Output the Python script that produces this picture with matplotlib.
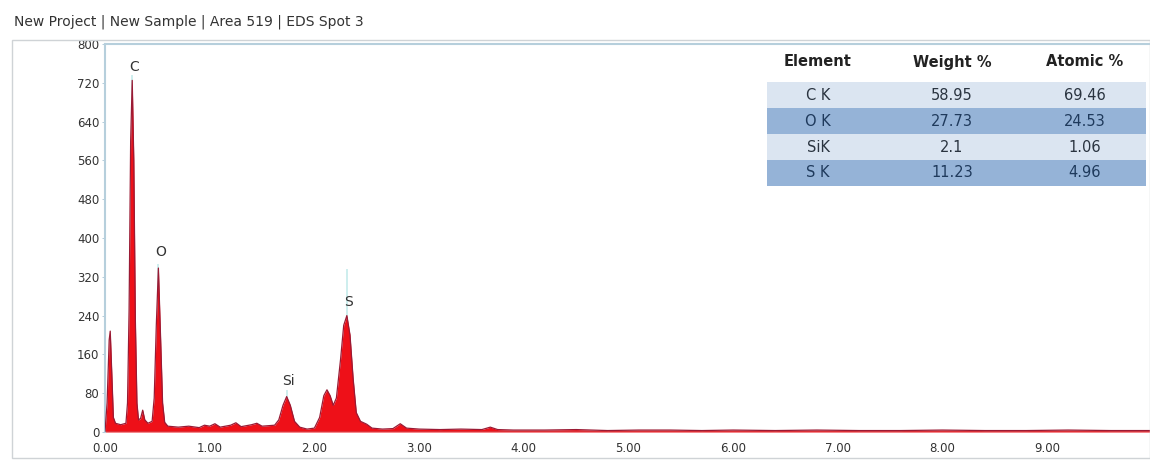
import matplotlib.pyplot as plt
from matplotlib.patches import Rectangle

# espectro EDS (energia en keV, cuentas)
energia = [0.00, 0.02, 0.04, 0.05, 0.065, 0.08, 0.10, 0.15, 0.20, 0.215, 0.23, 0.245,
           0.26, 0.275, 0.29, 0.305, 0.32, 0.34, 0.36, 0.38, 0.41, 0.45, 0.47, 0.49,
           0.51, 0.53, 0.55, 0.57, 0.60, 0.70, 0.80, 0.90, 0.95, 1.00, 1.05, 1.10,
           1.20, 1.25, 1.30, 1.40, 1.45, 1.50, 1.62, 1.66, 1.70, 1.735, 1.77, 1.81,
           1.86, 1.93, 2.00, 2.05, 2.09, 2.12, 2.15, 2.18, 2.21, 2.25, 2.28, 2.31,
           2.34, 2.37, 2.40, 2.44, 2.50, 2.55, 2.65, 2.75, 2.82, 2.88, 3.00, 3.20,
           3.40, 3.60, 3.68, 3.75, 3.90, 4.20, 4.50, 4.80, 5.10, 5.40, 5.70, 6.00,
           6.40, 6.80, 7.20, 7.60, 8.00, 8.40, 8.80, 9.20, 9.60, 10.0]
cuentas = [0, 60, 190, 208, 120, 30, 18, 15, 18, 60, 250, 600,
           725, 560, 230, 60, 25, 28, 45, 25, 18, 22, 70, 220,
           338, 200, 60, 20, 12, 10, 12, 9, 14, 12, 17, 10,
           14, 19, 11, 15, 18, 12, 14, 25, 55, 73, 55, 22,
           10, 6, 8, 30, 75, 87, 75, 55, 70, 150, 220, 240,
           200, 110, 40, 22, 16, 8, 6, 7, 17, 8, 6, 5,
           6, 5, 10, 5, 4, 4, 5, 3, 4, 4, 3, 4,
           3, 4, 3, 3, 4, 3, 3, 4, 3, 3]

# marcas de elementos: energia de la linea, altura de la linea y de la etiqueta
elementos = ["C", "O", "Si", "S"]
elem_energia = [0.26, 0.51, 1.735, 2.31]
elem_linea = [735, 345, 85, 335]
elem_etiqueta = [752, 372, 105, 268]

# tabla de cuantificacion
columnas = ["Element", "Weight %", "Atomic %"]
filas = ["C K", "O K", "SiK", "S K"]
peso = ["58.95", "27.73", "2.1", "11.23"]
atomico = ["69.46", "24.53", "1.06", "4.96"]

yticks = [0, 80, 160, 240, 320, 400, 480, 560, 640, 720, 800]
xticks = [0, 1, 2, 3, 4, 5, 6, 7, 8, 9]

W, H = 1150, 462
fig = plt.figure(figsize=(W / 100, H / 100), dpi=100)
fig.patch.set_facecolor("white")

# marco del panel y titulo
fig.patches.append(Rectangle((12 / W, 4 / H), (W - 12) / W, (H - 40 - 4) / H,
                             transform=fig.transFigure, fill=False,
                             edgecolor="#cfd3d6", lw=1.0))
fig.text(14 / W, 1 - 22 / H, "New Project | New Sample | Area 519 | EDS Spot 3",
         fontsize=10, color="#333333", va="center", ha="left")

ax = fig.add_axes([105 / W, 30 / H, 1047 / W, 388 / H])
ax.set_facecolor("white")

for x, alto in zip(elem_energia, elem_linea):
    ax.plot([x, x], [0, alto], color="#cdeeee", lw=1.4, zorder=1)

ax.fill_between(energia, cuentas, 0, color="#ee1018", lw=0, zorder=2)
ax.plot(energia, cuentas, color="#9a1a34", lw=0.9, zorder=3)
ax.axhline(0, color="#8fb8b8", lw=1.0, zorder=4)

for nombre, x, y in zip(elementos, elem_energia, elem_etiqueta):
    ax.text(x + 0.02, y, nombre, fontsize=10, color="#333333",
            ha="center", va="center", zorder=5)

ax.set_xlim(0, 10)
ax.set_ylim(0, 800)
ax.set_xticks(xticks)
ax.set_xticklabels([f"{v:.2f}" for v in xticks])
ax.set_yticks(yticks)
ax.tick_params(axis="both", labelsize=8.5, colors="#333333", length=2, width=0.6)
ax.tick_params(axis="y", pad=2, color="#a9c4d4")
ax.tick_params(axis="x", length=0, pad=7)
for lado in ["right", "bottom"]:
    ax.spines[lado].set_visible(False)
ax.spines["left"].set_color("#b6cfdc")
ax.spines["left"].set_linewidth(1.5)
ax.spines["top"].set_color("#b6cfdc")
ax.spines["top"].set_linewidth(1.5)

# tabla de resultados en la esquina superior derecha
t_izq, t_der = 767, 1146
col_x = [818, 952, 1085]
fila_alto = 26
fila_arriba = 82
colores = ["#dbe5f1", "#95b3d7", "#dbe5f1", "#95b3d7"]

for x, s in zip(col_x, columnas):
    fig.text(x / W, 1 - 62 / H, s, fontsize=10.5, weight="bold",
             color="#222222", ha="center", va="center")

for i, (el, p, a) in enumerate(zip(filas, peso, atomico)):
    y0 = fila_arriba + i * fila_alto
    fig.patches.append(Rectangle((t_izq / W, 1 - (y0 + fila_alto) / H),
                                 (t_der - t_izq) / W, fila_alto / H,
                                 transform=fig.transFigure, facecolor=colores[i],
                                 edgecolor="none", zorder=5))
    yc = 1 - (y0 + fila_alto / 2) / H
    texto = "#1f3a5c" if i % 2 else "#2a3440"
    for x, s in zip(col_x, [el, p, a]):
        fig.text(x / W, yc, s, fontsize=10.5, color=texto, ha="center",
                 va="center", zorder=6)

plt.savefig("out.png", dpi=100)
plt.close()
